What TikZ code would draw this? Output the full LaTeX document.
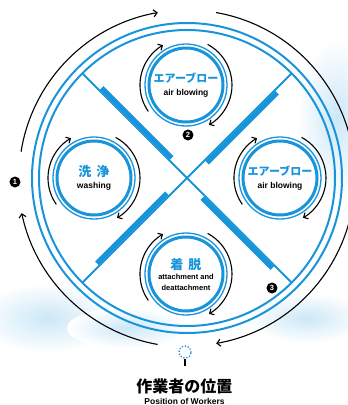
\documentclass[tikz,border=0pt]{standalone}
\usepackage{fontspec}
\setmainfont{Liberation Sans}
\newfontfamily\jpfont{Noto Sans CJK JP}
\usetikzlibrary{arrows.meta}
\definecolor{ringblue}{RGB}{24,148,218}
\newcommand\jpbig{\jpfont\bfseries\fontsize{13}{15}\selectfont\color{ringblue}}
\newcommand\jpsmall{\jpfont\bfseries\fontsize{11}{13}\selectfont\color{ringblue}}
\newcommand\ensmall{\bfseries\fontsize{8.5}{10}\selectfont}
\newcommand\entiny{\bfseries\fontsize{7.5}{9}\selectfont}
\tikzset{
  ring/.style={ringblue, line width=2pt},
  flow/.style={black, line width=1.1pt, -{Straight Barb[length=3.5pt,width=7pt]}},
  station/.style={circle, draw=ringblue, line width=3pt, minimum size=74pt, inner sep=0pt, align=center},
  num/.style={circle, fill=black, text=white, inner sep=0pt, minimum size=11pt, font=\bfseries\fontsize{7.5}{7.5}\selectfont},
  wash/.style={inner color=ringblue!22, outer color=white}
}
\begin{document}
\begin{tikzpicture}[x=1pt, y=1pt]
    \useasboundingbox (-187,-227) rectangle (161,178);
    % watercolour wash behind
    \shade[wash] (-140,-140) ellipse (70 and 35);
    \shade[wash] (150,60) ellipse (40 and 80);
    \shade[wash] (120,-140) ellipse (60 and 25);
    \shade[wash] (-60,-150) ellipse (60 and 20);
    % outer ring
    \draw[ring] (0,0) circle (155);
    \draw[ring] (0,0) circle (148);
    % the cross with its bars
    \foreach \a in {45,135,225,315} {
        \begin{scope}[rotate=\a]
            \draw[ringblue, line width=2pt] (0,0) -- (148,0);
            \draw[ringblue, line width=5pt] (25,-3.5) -- (124,-3.5);
        \end{scope}
    }
    % stations
    \node[station, fill=white] (top) at (-1,93) {\jpsmall エアーブロー\\[1pt] \ensmall air blowing};
    \node[station, fill=white] (right) at (93,0) {\jpsmall エアーブロー\\[1pt] \ensmall air blowing};
    \node[station, fill=white] (left) at (-93,0) {\jpbig 洗\hspace{5pt}浄\\ \ensmall washing};
    \node[station, fill=white] (bottom) at (-1,-96) {\jpbig 着\hspace{5pt}脱\\[-2pt] \entiny attachment and\\[-1pt] \entiny deattachment};
    \foreach \s in {top,right,bottom,left} {
        \draw[ringblue, line width=1.3pt] (\s) circle (41);
        \draw[flow] (\s) ++(215:46) arc[start angle=215, end angle=120, radius=46];
        \draw[flow] (\s) ++(62:46) arc[start angle=62, end angle=-60, radius=46];
    }
    % outer flow
    \draw[flow] (171:168) arc[start angle=171, end angle=100, radius=168];
    \draw[flow] (80:168) arc[start angle=80, end angle=-80, radius=168];
    \draw[flow] (-100:169) arc[start angle=-100, end angle=-168, radius=169];
    % numbers
    \node[num] (n1) at (-172,-4) {1};
    \node[num] (n2) at (1,43) {2};
    \node[num] (n3) at (85,-110) {3};
    % workers
    \node[circle, draw=ringblue, line width=1.8pt, dash pattern=on 0pt off 3pt, line cap=round, minimum size=12pt, inner sep=0pt] (worker) at (-2,-174) {};
    \coordinate (stem) at (-2,-188);
    \draw[line width=1.2pt] (worker) -- (stem);
    \node[font=\jpfont\bfseries\fontsize{16}{18}\selectfont] (wlabel) at (-2.5,-208) {作業者の位置};
    \node[anchor=base, font=\bfseries\fontsize{8.5}{10}\selectfont] (wlabelen) at (-2.5,-226) {Position of Workers};
\end{tikzpicture}
\end{document}
